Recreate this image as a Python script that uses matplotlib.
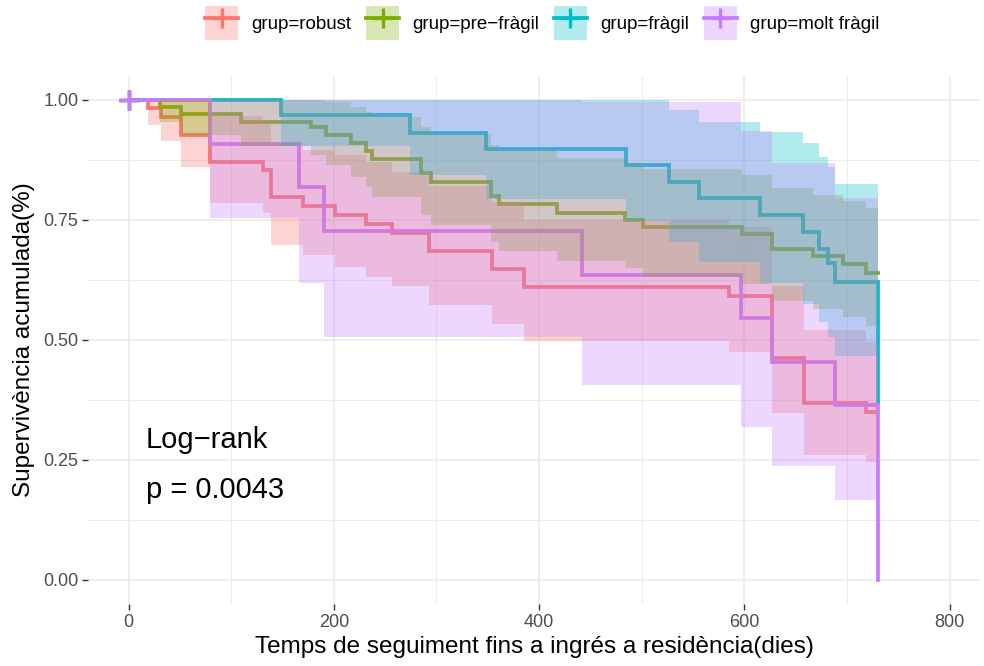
import matplotlib
matplotlib.use("Agg")
import matplotlib.pyplot as plt
from matplotlib.patches import Patch
from matplotlib.lines import Line2D
from matplotlib.ticker import MultipleLocator, FormatStrFormatter

plt.rcParams['font.family'] = ['Liberation Sans', 'DejaVu Sans']

# --- data (Kaplan-Meier steps + 95% CI) ---
groups = ["grup=robust", "grup=pre\u2212fràgil", "grup=fràgil", "grup=molt fràgil"]
colors = ["#F8766D", "#7CAE00", "#00BFC4", "#C77CFF"]

red_t = [0, 19, 32, 51, 79, 131, 139, 170, 201, 231, 257, 293, 354, 385, 585, 627, 658, 718, 730]
red_s = [1.0, 0.983, 0.964, 0.927, 0.871, 0.854, 0.797, 0.779, 0.760, 0.742, 0.722, 0.686, 0.648,
         0.611, 0.592, 0.462, 0.368, 0.349, 0.349]
red_lo = [1.0, 0.948, 0.915, 0.860, 0.785, 0.765, 0.698, 0.677, 0.653, 0.632, 0.6125, 0.573, 0.533,
          0.497, 0.476, 0.348, 0.260, 0.246, 0.246]
red_hi = [1.0, 1.0, 1.0, 1.0, 0.966, 0.953, 0.910, 0.896, 0.885, 0.871, 0.851, 0.821, 0.788,
          0.751, 0.736, 0.613, 0.521, 0.495, 0.495]

green_t = [0, 31, 51, 110, 178, 192, 217, 231, 237, 285, 295, 353, 361, 417, 484, 501, 598, 627,
           667, 696, 718, 730]
green_s = [1.0, 0.985, 0.971, 0.955, 0.943, 0.927, 0.910, 0.893, 0.877, 0.847, 0.830, 0.799, 0.783,
           0.765, 0.751, 0.736, 0.721, 0.689, 0.674, 0.658, 0.640, 0.640]
green_lo = [1.0, 0.955, 0.928, 0.904, 0.886, 0.864, 0.840, 0.818, 0.798, 0.761, 0.740, 0.704, 0.685,
            0.665, 0.649, 0.632, 0.616, 0.581, 0.565, 0.548, 0.529, 0.529]
green_hi = [1.0, 1.0, 1.0, 1.0, 1.0, 0.995, 0.986, 0.975, 0.964, 0.943, 0.930, 0.907, 0.895,
            0.880, 0.869, 0.856, 0.844, 0.817, 0.803, 0.790, 0.774, 0.774]

teal_t = [0, 149, 274, 348, 485, 527, 556, 615, 657, 673, 681, 688, 730]
teal_s = [1.0, 0.969, 0.932, 0.897, 0.865, 0.830, 0.795, 0.760, 0.724, 0.689, 0.660, 0.621, 0.368]
teal_lo = [1.0, 0.905, 0.844, 0.793, 0.748, 0.704, 0.662, 0.618, 0.576, 0.538, 0.507, 0.467, 0.368]
teal_hi = [1.0, 1.0, 1.0, 1.0, 1.0, 0.979, 0.955, 0.934, 0.910, 0.882, 0.860, 0.825, 0.368]

purple_t = [0, 79, 166, 190, 442, 597, 627, 688, 730]
purple_s = [1.0, 0.909, 0.818, 0.727, 0.636, 0.545, 0.455, 0.364, 0.0]
purple_lo = [1.0, 0.754, 0.619, 0.506, 0.407, 0.318, 0.238, 0.167, 0.0]
purple_hi = [1.0, 1.0, 1.0, 1.0, 0.995, 0.935, 0.869, 0.795, 0.0]

curves = [(red_t, red_s, red_lo, red_hi),
          (green_t, green_s, green_lo, green_hi),
          (teal_t, teal_s, teal_lo, teal_hi),
          (purple_t, purple_s, purple_lo, purple_hi)]

fig = plt.figure(figsize=(9.84, 6.66), dpi=100)
ax = fig.add_axes([88 / 984, 62 / 666, 892 / 984, 528 / 666])

for (t, s, lo, hi), c in zip(curves, colors):
    ax.step(t, s, where='post', color=c, lw=2.7, zorder=2, solid_joinstyle='miter')
for (t, s, lo, hi), c in zip(curves, colors):
    ax.fill_between(t, lo, hi, step='post', color=c, alpha=0.3, lw=0, zorder=3)
for (t, s, lo, hi), c in zip(curves, colors):
    ax.plot([t[0]], [s[0]], marker='+', color=c, ms=14, mew=2.4, zorder=4)

ax.set_xlim(-39.5, 829.5)
ax.set_ylim(-0.05, 1.05)
ax.xaxis.set_major_locator(MultipleLocator(200))
ax.xaxis.set_minor_locator(MultipleLocator(100))
ax.yaxis.set_major_locator(MultipleLocator(0.25))
ax.yaxis.set_minor_locator(MultipleLocator(0.125))
ax.yaxis.set_major_formatter(FormatStrFormatter('%.2f'))
for sp in ax.spines.values():
    sp.set_visible(False)
ax.grid(which='major', color='#EBEBEB', lw=1.2)
ax.grid(which='minor', color='#EBEBEB', lw=0.7)
ax.set_axisbelow(True)
ax.tick_params(which='major', length=4, width=1, color='#333333', labelcolor='#4D4D4D',
               labelsize=13, pad=3)
ax.tick_params(which='minor', length=0)

ax.set_xlabel("Temps de seguiment fins a ingrés a residència(dies)", fontsize=17.5, labelpad=4)
ax.set_ylabel("Supervivència acumulada(%)", fontsize=17.5, labelpad=6)

ax.text(17, 0.292, "Log\u2212rank", fontsize=21, va='center', ha='left')
ax.text(17, 0.1875, "p = 0.0043", fontsize=21, va='center', ha='left')

handles = [(Patch(facecolor=c, alpha=0.3, edgecolor='none'),
            Line2D([], [], color=c, lw=2.7, marker='+', ms=14, mew=2.4)) for c in colors]
fig.legend(handles, groups, loc='center', bbox_to_anchor=(0.551, 0.965), ncol=4,
           frameon=False, fontsize=13.5, handlelength=1.75, handleheight=2.4,
           handletextpad=0.7, columnspacing=0.8)

fig.savefig("out.png", dpi=100)
